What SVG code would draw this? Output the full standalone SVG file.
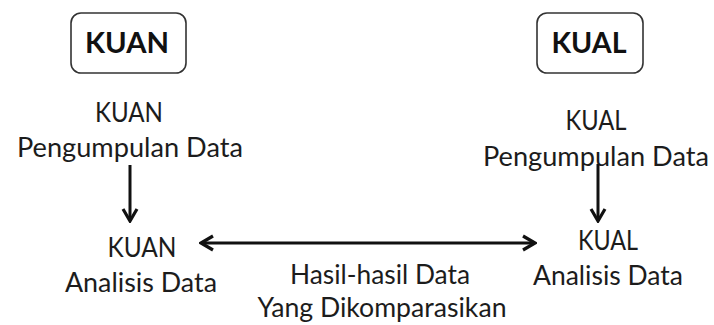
<svg xmlns="http://www.w3.org/2000/svg" width="714" height="325" viewBox="0 0 714 325">
  <defs>
    <style>
      .box { fill: #ffffff; stroke: #333333; stroke-width: 1.6; }
      .title { font-family: Lato, "Open Sans", "Liberation Sans", sans-serif; font-weight: bold; font-size: 29px; fill: #111111; text-anchor: middle; }
      .lbl { font-family: Lato, "Open Sans", "Liberation Sans", sans-serif; font-size: 26px; fill: #1c1c1c; text-anchor: middle; }
      .conn { stroke: #111111; stroke-width: 3; fill: none; }
    </style>
    <marker id="head" markerUnits="userSpaceOnUse" viewBox="-16 -10 18 20" markerWidth="18" markerHeight="20" refX="0" refY="0" orient="auto-start-reverse">
      <path d="M-12,-7 L0,0 L-12,7" fill="none" stroke="#111111" stroke-width="3.2" stroke-linejoin="miter"/>
    </marker>
  </defs>
  <rect width="714" height="325" fill="#ffffff"/>

  <g id="kuan-header">
    <rect class="box" x="71" y="13" width="115" height="60" rx="10" ry="10"/>
    <text class="title" x="127" y="53" textLength="84" lengthAdjust="spacingAndGlyphs">KUAN</text>
  </g>
  <g id="kual-header">
    <rect class="box" x="537" y="13" width="106" height="60" rx="10" ry="10"/>
    <text class="title" x="589" y="53" textLength="75" lengthAdjust="spacingAndGlyphs">KUAL</text>
  </g>

  <g id="kuan-collect">
    <text class="lbl" x="129" y="122" textLength="68" lengthAdjust="spacingAndGlyphs">KUAN</text>
    <text class="lbl" x="130" y="157" textLength="226" lengthAdjust="spacingAndGlyphs">Pengumpulan Data</text>
  </g>
  <g id="kual-collect">
    <text class="lbl" x="596" y="130" textLength="61" lengthAdjust="spacingAndGlyphs">KUAL</text>
    <text class="lbl" x="596" y="166" textLength="226" lengthAdjust="spacingAndGlyphs">Pengumpulan Data</text>
  </g>
  <g id="kuan-analysis">
    <text class="lbl" x="142" y="257" textLength="69" lengthAdjust="spacingAndGlyphs">KUAN</text>
    <text class="lbl" x="141" y="292" textLength="152" lengthAdjust="spacingAndGlyphs">Analisis Data</text>
  </g>
  <g id="kual-analysis">
    <text class="lbl" x="608" y="250" textLength="60" lengthAdjust="spacingAndGlyphs">KUAL</text>
    <text class="lbl" x="608" y="285" textLength="150" lengthAdjust="spacingAndGlyphs">Analisis Data</text>
  </g>

  <g id="connectors">
    <line class="conn" x1="130" y1="165" x2="130" y2="221" marker-end="url(#head)"/>
    <line class="conn" x1="598" y1="164" x2="598" y2="221" marker-end="url(#head)"/>
    <line class="conn" x1="201" y1="243" x2="535" y2="243" marker-start="url(#head)" marker-end="url(#head)"/>
    <g id="connector-label">
      <text class="lbl" x="380" y="284" textLength="180" lengthAdjust="spacingAndGlyphs">Hasil-hasil Data</text>
      <text class="lbl" x="382" y="317" textLength="249" lengthAdjust="spacingAndGlyphs">Yang Dikomparasikan</text>
    </g>
  </g>
</svg>
